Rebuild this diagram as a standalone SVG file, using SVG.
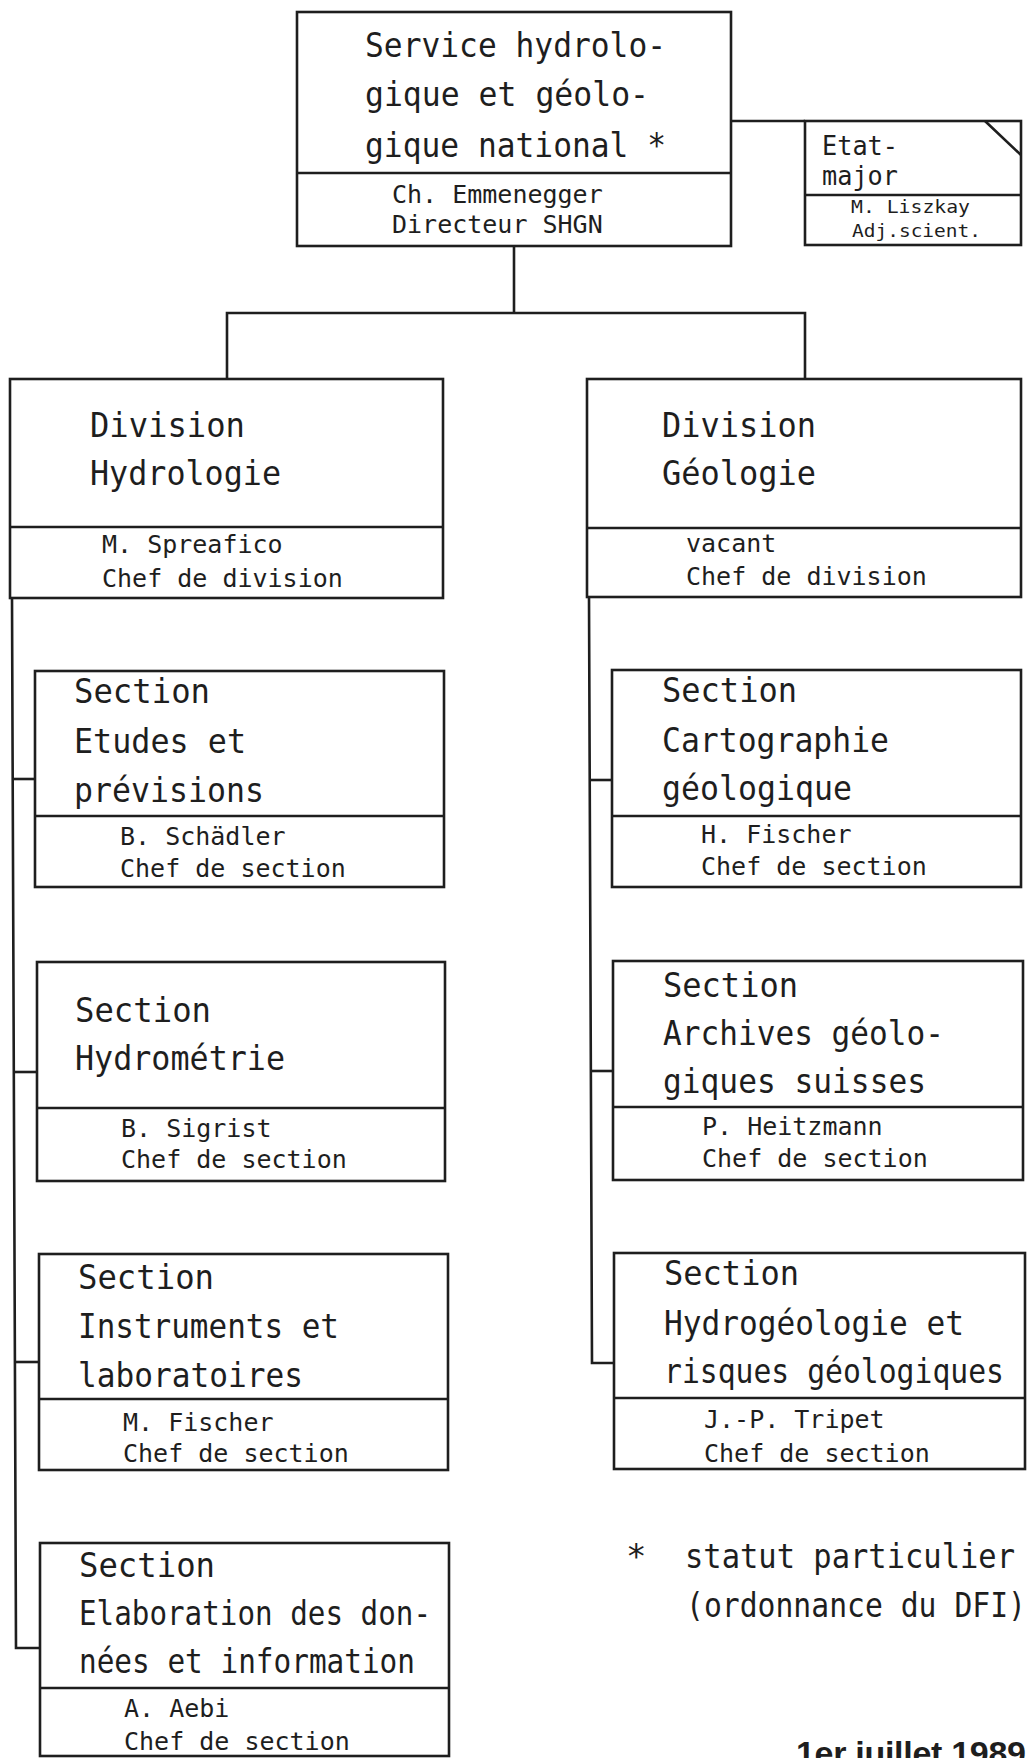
<svg xmlns="http://www.w3.org/2000/svg" width="1031" height="1758" viewBox="0 0 1031 1758">
<style>
.ln{fill:none;stroke:#1e1e1e;stroke-width:2.6;stroke-linejoin:miter}
.t{font-family:"DejaVu Sans Mono",monospace;font-size:34px;fill:#1e1e1e}
.n{font-family:"DejaVu Sans Mono",monospace;font-size:25px;fill:#1e1e1e}
.e{font-family:"DejaVu Sans Mono",monospace;font-size:27px;fill:#1e1e1e}
.s{font-family:"DejaVu Sans Mono",monospace;font-size:18px;fill:#1e1e1e}
.d{font-family:"Liberation Sans",Arial,sans-serif;font-size:34px;font-weight:bold;fill:#1e1e1e}
</style>
<rect width="1031" height="1758" fill="#fff"/>

<g id="connectors" class="ln">
  <path d="M731,121 H805"/>
  <path d="M514,246 V313"/>
  <path d="M227,379 V313 H805 V379"/>
  <path d="M12,598 L16,1648 H40"/>
  <path d="M12.7,779 H35"/>
  <path d="M13.8,1072 H37"/>
  <path d="M14.9,1362 H39"/>
  <path d="M589,597 L592,1363 H614"/>
  <path d="M590,780 H612"/>
  <path d="M591,1071 H613"/>
</g>

<g id="service">
  <rect class="ln" x="297" y="12" width="434" height="234"/>
  <path class="ln" d="M297,173 H731"/>
  <text class="t" x="365" y="57" textLength="301" lengthAdjust="spacingAndGlyphs">Service hydrolo-</text>
  <text class="t" x="365" y="106" textLength="284" lengthAdjust="spacingAndGlyphs">gique et géolo-</text>
  <text class="t" x="365" y="157" textLength="301" lengthAdjust="spacingAndGlyphs">gique national *</text>
  <text class="n" x="392" y="203">Ch. Emmenegger</text>
  <text class="n" x="392" y="233">Directeur SHGN</text>
</g>

<g id="etat-major">
  <rect class="ln" x="805" y="121" width="216" height="124"/>
  <path class="ln" d="M805,195 H1021 M985,121 L1021,155"/>
  <text class="e" x="822" y="155" textLength="76" lengthAdjust="spacingAndGlyphs">Etat-</text>
  <text class="e" x="822" y="185" textLength="76" lengthAdjust="spacingAndGlyphs">major</text>
  <text class="s" x="851" y="213" textLength="119" lengthAdjust="spacingAndGlyphs">M. Liszkay</text>
  <text class="s" x="852" y="237" textLength="129" lengthAdjust="spacingAndGlyphs">Adj.scient.</text>
</g>

<g id="div-hydrologie">
  <rect class="ln" x="10" y="379" width="433" height="219"/>
  <path class="ln" d="M10,527 H443"/>
  <text class="t" x="90" y="437" textLength="155" lengthAdjust="spacingAndGlyphs">Division</text>
  <text class="t" x="90" y="485" textLength="191" lengthAdjust="spacingAndGlyphs">Hydrologie</text>
  <text class="n" x="102" y="553">M. Spreafico</text>
  <text class="n" x="102" y="587">Chef de division</text>
</g>

<g id="div-geologie">
  <rect class="ln" x="587" y="379" width="434" height="218"/>
  <path class="ln" d="M587,528 H1021"/>
  <text class="t" x="662" y="437" textLength="154" lengthAdjust="spacingAndGlyphs">Division</text>
  <text class="t" x="662" y="485" textLength="154" lengthAdjust="spacingAndGlyphs">Géologie</text>
  <text class="n" x="686" y="552">vacant</text>
  <text class="n" x="686" y="585">Chef de division</text>
</g>

<g id="sec-etudes">
  <rect class="ln" x="35" y="671" width="409" height="216"/>
  <path class="ln" d="M35,816 H444"/>
  <text class="t" x="74" y="703" textLength="136" lengthAdjust="spacingAndGlyphs">Section</text>
  <text class="t" x="74" y="753" textLength="172" lengthAdjust="spacingAndGlyphs">Etudes et</text>
  <text class="t" x="74" y="802" textLength="190" lengthAdjust="spacingAndGlyphs">prévisions</text>
  <text class="n" x="120" y="845">B. Schädler</text>
  <text class="n" x="120" y="877">Chef de section</text>
</g>

<g id="sec-hydrometrie">
  <rect class="ln" x="37" y="962" width="408" height="219"/>
  <path class="ln" d="M37,1108 H445"/>
  <text class="t" x="75" y="1022" textLength="136" lengthAdjust="spacingAndGlyphs">Section</text>
  <text class="t" x="75" y="1070" textLength="210" lengthAdjust="spacingAndGlyphs">Hydrométrie</text>
  <text class="n" x="121" y="1137">B. Sigrist</text>
  <text class="n" x="121" y="1168">Chef de section</text>
</g>

<g id="sec-instruments">
  <rect class="ln" x="39" y="1254" width="409" height="216"/>
  <path class="ln" d="M39,1399 H448"/>
  <text class="t" x="78" y="1289" textLength="136" lengthAdjust="spacingAndGlyphs">Section</text>
  <text class="t" x="78" y="1338" textLength="261" lengthAdjust="spacingAndGlyphs">Instruments et</text>
  <text class="t" x="78" y="1387" textLength="225" lengthAdjust="spacingAndGlyphs">laboratoires</text>
  <text class="n" x="123" y="1431">M. Fischer</text>
  <text class="n" x="123" y="1462">Chef de section</text>
</g>

<g id="sec-elaboration">
  <rect class="ln" x="40" y="1543" width="409" height="213"/>
  <path class="ln" d="M40,1688 H449"/>
  <text class="t" x="79" y="1577" textLength="136" lengthAdjust="spacingAndGlyphs">Section</text>
  <text class="t" x="79" y="1625" textLength="352" lengthAdjust="spacingAndGlyphs">Elaboration des don-</text>
  <text class="t" x="79" y="1673" textLength="336" lengthAdjust="spacingAndGlyphs">nées et information</text>
  <text class="n" x="124" y="1717">A. Aebi</text>
  <text class="n" x="124" y="1750">Chef de section</text>
</g>

<g id="sec-cartographie">
  <rect class="ln" x="612" y="670" width="409" height="217"/>
  <path class="ln" d="M612,816 H1021"/>
  <text class="t" x="662" y="702" textLength="135" lengthAdjust="spacingAndGlyphs">Section</text>
  <text class="t" x="662" y="752" textLength="227" lengthAdjust="spacingAndGlyphs">Cartographie</text>
  <text class="t" x="662" y="800" textLength="190" lengthAdjust="spacingAndGlyphs">géologique</text>
  <text class="n" x="701" y="843">H. Fischer</text>
  <text class="n" x="701" y="875">Chef de section</text>
</g>

<g id="sec-archives">
  <rect class="ln" x="613" y="961" width="410" height="219"/>
  <path class="ln" d="M613,1107 H1023"/>
  <text class="t" x="663" y="997" textLength="135" lengthAdjust="spacingAndGlyphs">Section</text>
  <text class="t" x="663" y="1045" textLength="281" lengthAdjust="spacingAndGlyphs">Archives géolo-</text>
  <text class="t" x="663" y="1093" textLength="263" lengthAdjust="spacingAndGlyphs">giques suisses</text>
  <text class="n" x="702" y="1135">P. Heitzmann</text>
  <text class="n" x="702" y="1167">Chef de section</text>
</g>

<g id="sec-hydrogeologie">
  <rect class="ln" x="614" y="1253" width="411" height="216"/>
  <path class="ln" d="M614,1398 H1025"/>
  <text class="t" x="664" y="1285" textLength="135" lengthAdjust="spacingAndGlyphs">Section</text>
  <text class="t" x="664" y="1335" textLength="300" lengthAdjust="spacingAndGlyphs">Hydrogéologie et</text>
  <text class="t" x="664" y="1383" textLength="340" lengthAdjust="spacingAndGlyphs">risques géologiques</text>
  <text class="n" x="704" y="1428">J.-P. Tripet</text>
  <text class="n" x="704" y="1462">Chef de section</text>
</g>

<g id="footnote">
  <text class="t" x="626" y="1568">*</text>
  <text class="t" x="685" y="1568" textLength="330" lengthAdjust="spacingAndGlyphs">statut particulier</text>
  <text class="t" x="686" y="1617" textLength="340" lengthAdjust="spacingAndGlyphs">(ordonnance du DFI)</text>
</g>

<g id="date">
  <text class="d" x="796" y="1765" textLength="230" lengthAdjust="spacing">1er juillet 1989</text>
</g>
</svg>
